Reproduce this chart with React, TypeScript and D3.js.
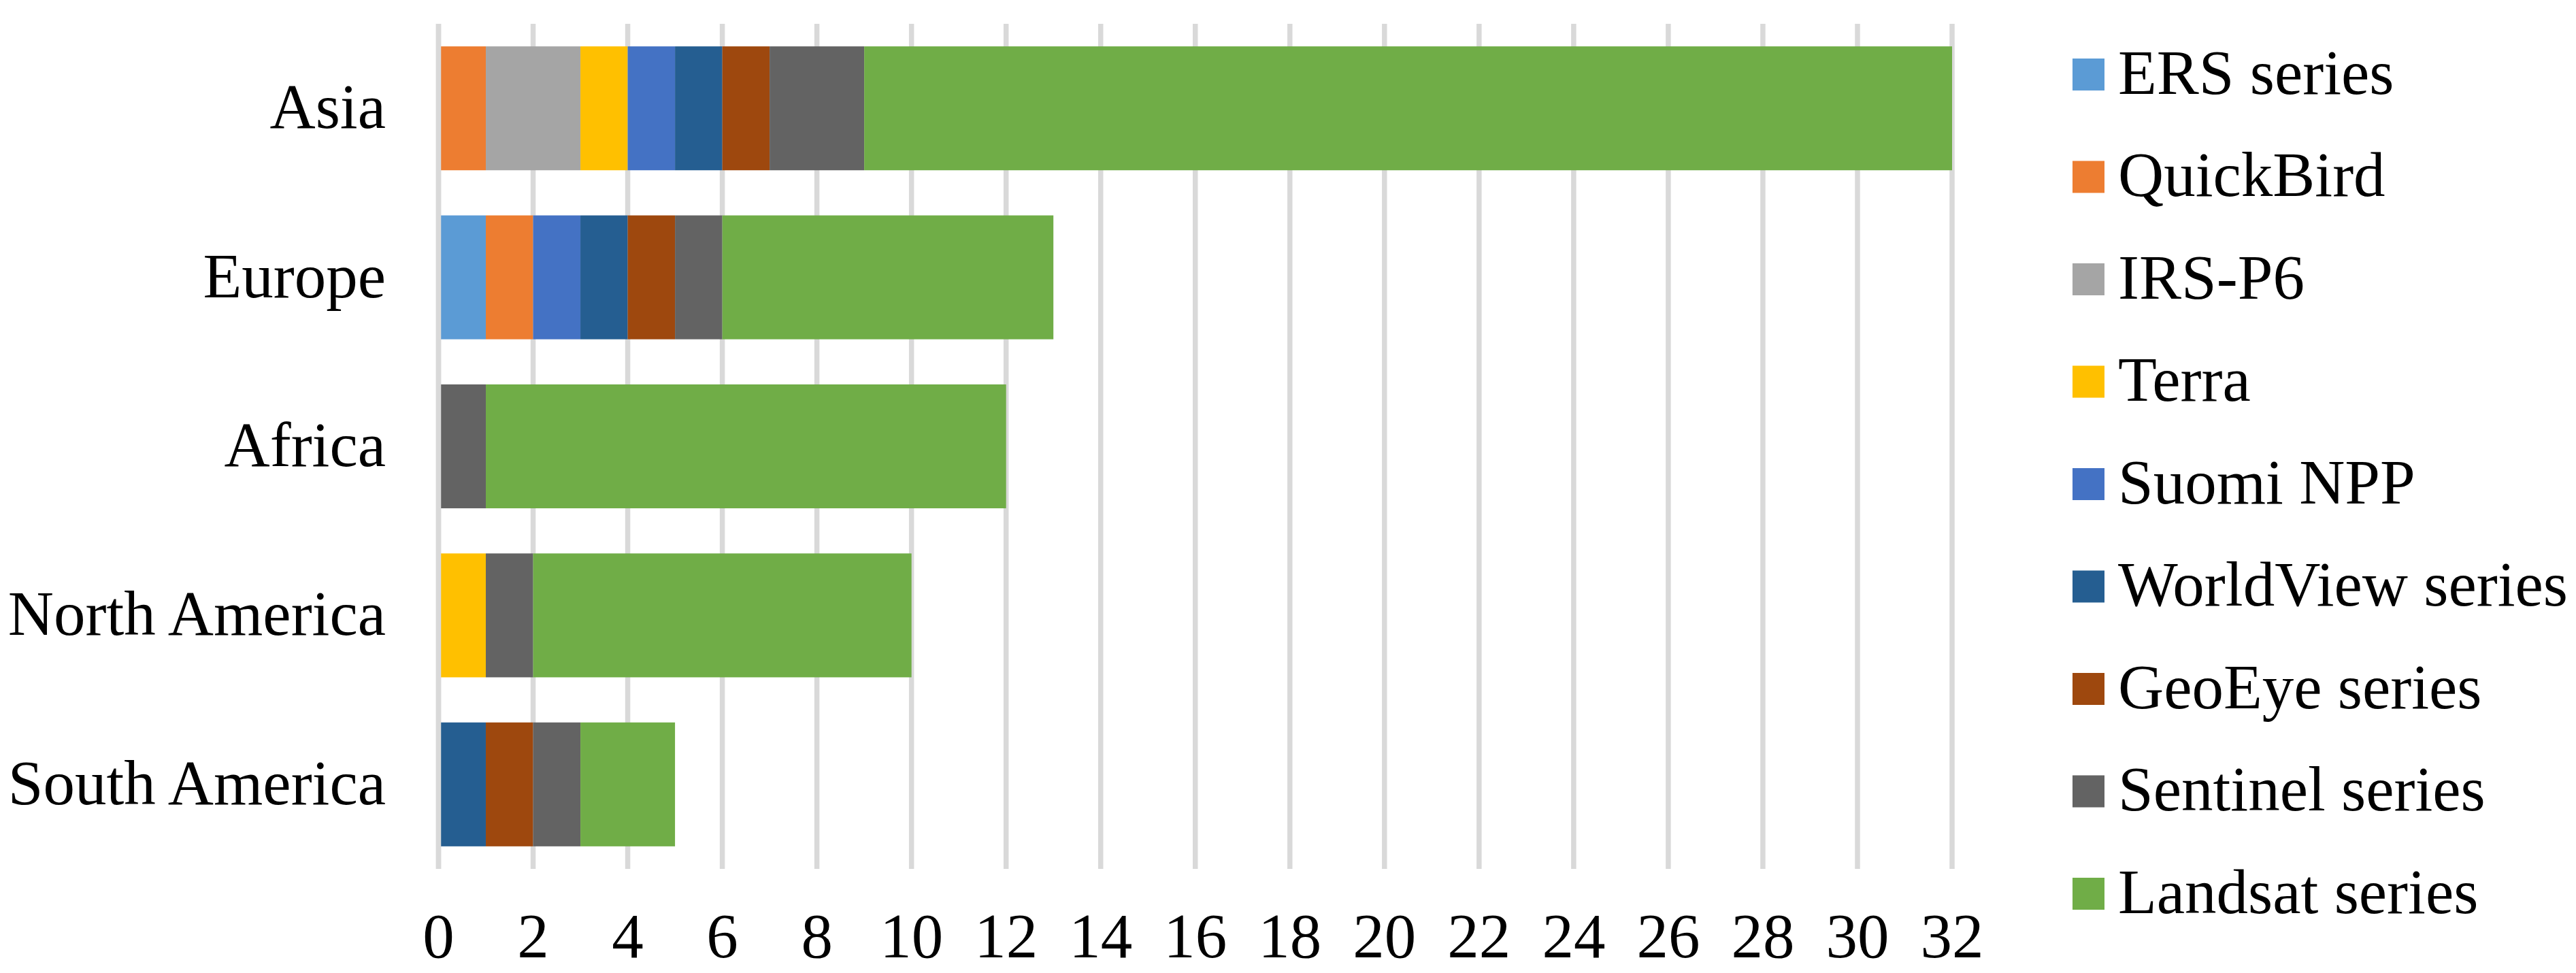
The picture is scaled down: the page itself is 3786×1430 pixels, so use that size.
import React from "react";
import * as d3 from "d3";

const categories = ["Asia", "Europe", "Africa", "North America", "South America"];
const seriesNames = [
  "ERS series",
  "QuickBird",
  "IRS-P6",
  "Terra",
  "Suomi NPP",
  "WorldView series",
  "GeoEye series",
  "Sentinel series",
  "Landsat series",
];
const seriesColors = ["#5B9BD5", "#ED7D31", "#A5A5A5", "#FFC000", "#4472C4", "#255E91", "#9E480E", "#636363", "#70AD47"];
// values per series, in category order: Asia, Europe, Africa, North America, South America
const ersValues = [0, 1, 0, 0, 0];
const quickBirdValues = [1, 1, 0, 0, 0];
const irsP6Values = [2, 0, 0, 0, 0];
const terraValues = [1, 0, 0, 1, 0];
const suomiValues = [1, 1, 0, 0, 0];
const worldViewValues = [1, 1, 0, 0, 1];
const geoEyeValues = [1, 1, 0, 0, 1];
const sentinelValues = [2, 1, 1, 1, 1];
const landsatValues = [23, 7, 11, 8, 2];
const xTicks = [0, 2, 4, 6, 8, 10, 12, 14, 16, 18, 20, 22, 24, 26, 28, 30, 32];

const allValues = [ersValues, quickBirdValues, irsP6Values, terraValues, suomiValues, worldViewValues, geoEyeValues, sentinelValues, landsatValues];

const W = 3786;
const H = 1430;
const FONT = "'Liberation Serif', 'Times New Roman', serif";
const FS = 93;

export default function App() {
  const x = d3.scaleLinear().domain([0, 32]).range([644.5, 2869]);
  const y = d3.scaleBand<string>().domain(categories).range([35, 1277]).paddingInner(0.267).paddingOuter(0.1335);

  const rows = categories.map((c, i) => {
    const r: any = { cat: c };
    seriesNames.forEach((s, j) => (r[s] = allValues[j][i]));
    return r;
  });
  const stacked = d3.stack<any>().keys(seriesNames)(rows);

  const legendX = 3046;
  const legendY0 = 86;
  const legendStep = 150.5;
  const sw = 47;

  return (
    <svg width={W} height={H} style={{ position: "absolute", left: 0, top: 0, background: "#fff" }} fontFamily={FONT}>
      <rect x={0} y={0} width={W} height={H} fill="#fff" />
      {xTicks.map((t) => (
        <line key={t} x1={x(t)} x2={x(t)} y1={35} y2={1277} stroke="#D9D9D9" strokeWidth={7.5} />
      ))}
      {stacked.map((layer, j) =>
        layer.map((d, i) =>
          d[1] - d[0] > 0 ? (
            <rect
              key={`${j}-${i}`}
              x={x(d[0])}
              y={y(categories[i])}
              width={x(d[1]) - x(d[0])}
              height={y.bandwidth()}
              fill={seriesColors[j]}
            />
          ) : null
        )
      )}
      <line x1={x(0)} x2={x(0)} y1={35} y2={1277} stroke="#D9D9D9" strokeWidth={7.5} />
      {categories.map((c) => (
        <text key={c} x={567} y={(y(c) as number) + y.bandwidth() / 2 + 29} textAnchor="end" fontSize={FS} fill="#000">
          {c}
        </text>
      ))}
      {xTicks.map((t) => (
        <text key={t} x={x(t)} y={1407} textAnchor="middle" fontSize={FS} fill="#000">
          {t}
        </text>
      ))}
      {seriesNames.map((s, j) => (
        <g key={s}>
          <rect x={legendX} y={legendY0 + j * legendStep} width={sw} height={sw} fill={seriesColors[j]} />
          <text x={3113} y={legendY0 + j * legendStep + 51.7} fontSize={FS} fill="#000">
            {s}
          </text>
        </g>
      ))}
    </svg>
  );
}
